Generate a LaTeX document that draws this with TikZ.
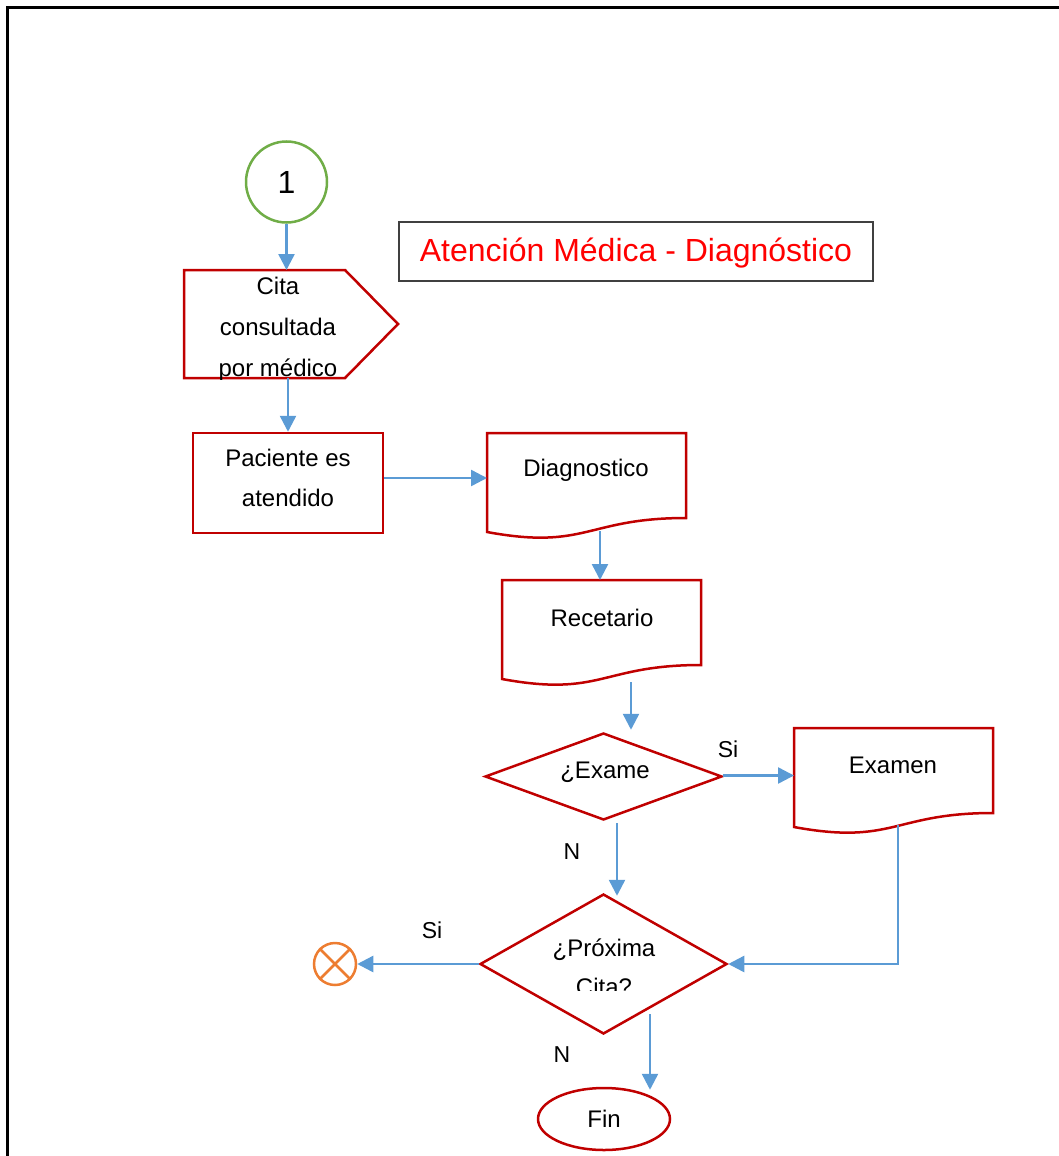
\documentclass[tikz,border=0pt]{standalone}
\usepackage{fontspec}
\setmainfont{Liberation Sans}
\usetikzlibrary{arrows.meta,calc,shapes.geometric}

\definecolor{flowred}{HTML}{C00000}
\definecolor{linkblue}{HTML}{5B9BD5}
\definecolor{startgreen}{HTML}{70AD47}
\definecolor{stoporange}{HTML}{ED7D31}
\definecolor{titlered}{HTML}{FF0000}
\definecolor{titlegray}{HTML}{404040}

\tikzset{
  flow/.style={draw=flowred, line width=2.5pt, line join=miter},
  anchorbox/.style={rectangle, inner sep=0pt, outer sep=0pt},
  link/.style={draw=linkblue, line width=2.5pt, -{Triangle[length=16pt,width=16pt]}},
  txt/.style={font=\fontsize{24}{40}\selectfont, align=center, inner sep=0pt},
  lbl/.style={font=\fontsize{23}{26}\selectfont, inner sep=0pt},
}

% document symbol with a wavy bottom edge, drawn on a named box
\newcommand{\docshape}[1]{%
  \draw[flow] (#1.north west) -- (#1.north east)
    -- ($(#1.north east)+(0,85)$)
    .. controls ($(#1.north)+(0,85)$) and ($(#1.north)+(0,117.4)$) ..
    ($(#1.north west)+(0,99)$) -- cycle;}

\begin{document}
\begin{tikzpicture}[x=1pt,y=-1pt]
\useasboundingbox (0,0) rectangle (1059,1156);

% page frame (top and left edges)
\draw[line width=3pt] (7.5,1160) -- (7.5,7.5) -- (1062,7.5);

% title
\draw[titlegray, line width=1.5pt] (399,222) rectangle (873,281);
\node[text=titlered, font=\fontsize{32}{38}\selectfont, inner sep=0pt]
  (title) at (636,253) {Atención Médica - Diagnóstico};

% connector start
\node[circle, draw=startgreen, line width=2.5pt, minimum size=81pt, inner sep=0pt,
      font=\fontsize{32}{32}\selectfont] (start) at (286.5,182) {1};

% off-page shaped step
\node[anchorbox, minimum width=214pt, minimum height=108pt] (cita) at (291,324) {};
\draw[flow] (cita.north west) -- ($(cita.north east)+(-53,0)$) -- (cita.east)
  -- ($(cita.south east)+(-53,0)$) -- (cita.south west) -- cycle;
\begin{scope}
  \clip (184,260) rectangle (400,379);
  \node[txt, font=\fontsize{24}{41}\selectfont] (citatxt) at (278,329)
    {Cita\\consultada\\por médico};
\end{scope}

% process box
\node[rectangle, flow, minimum width=190pt, minimum height=100pt, txt]
  (pac) at (288,483) {};
\node[txt] (pactxt) at (288,478) {Paciente es\\atendido};

% documents
\node[anchorbox, minimum width=199pt, minimum height=106pt] (diag) at (586.5,486) {};
\docshape{diag}
\node[txt] (diagtxt) at (586,470) {Diagnostico};

\node[anchorbox, minimum width=199pt, minimum height=106pt] (recet) at (601.5,633) {};
\docshape{recet}
\node[txt] (recettxt) at (602,618) {Recetario};

\node[anchorbox, minimum width=199pt, minimum height=106pt] (exam) at (893.5,781) {};
\docshape{exam}
\node[txt] (examtxt) at (893,765) {Examen};

% decisions
\node[diamond, flow, minimum width=237pt, minimum height=87pt, inner sep=0pt]
  (exame) at (603.5,776.5) {};
\node[txt] (exametxt) at (605,772) {¿Exame};

\node[diamond, flow, minimum width=247pt, minimum height=140pt, inner sep=0pt]
  (prox) at (603.5,964) {};
\begin{scope}
  \clip (480,900) rectangle (727,990);
  \node[txt, font=\fontsize{24}{39}\selectfont] (proxtxt) at (604,967) {¿Próxima\\Cita?};
\end{scope}

% terminators
\node[ellipse, flow, minimum width=132pt, minimum height=62pt, inner sep=0pt,
      font=\fontsize{24}{24}\selectfont] (fin) at (604,1119) {Fin};

\node[circle, draw=stoporange, line width=2.5pt, minimum size=42pt, inner sep=0pt]
  (stop) at (335,964) {};
\draw[stoporange, line width=2.5pt] (stop.north west) -- (stop.south east)
  (stop.north east) -- (stop.south west);

% connectors
\draw[link] (start.south) -- (start.south |- cita.north);
\draw[link] (pac.north |- cita.south) -- (pac.north);
\coordinate (p0) at ($(pac.east)+(0,-5)$);
\draw[link] (p0) -- (p0 -| diag.west);
\coordinate (d1) at ($(diag.south)+(13.5,-8)$);
\draw[link] (d1) -- (d1 |- recet.north);
\coordinate (r1) at ($(recet.south)+(29.5,-4)$);
\draw[link] (r1) -- ($(r1 |- exame.north)+(0,-2)$);
\coordinate (e0) at ($(exame.east)+(0,-1)$);
\draw[link] (e0) -- (e0 -| exam.west);
\coordinate (e1) at ($(exame.south)+(13.5,2)$);
\draw[link] (e1) -- ($(e1 |- prox.north)+(0,3)$);
\coordinate (x1) at ($(exam.south)+(4.5,-9)$);
\draw[link] (x1) |- (prox.east);
\draw[link] (prox.west) -- (stop.east);
\coordinate (q1) at ($(prox.south)+(46.5,-21)$);
\draw[link] (q1) -- ($(q1 |- fin.north)+(0,3)$);

% branch labels
\node[lbl] (siexam) at (728,749) {Si};
\node[lbl] (noexam) at (572,852) {N};
\node[lbl] (siprox) at (432,930) {Si};
\node[lbl] (noprox) at (562,1055) {N};
\end{tikzpicture}
\end{document}
